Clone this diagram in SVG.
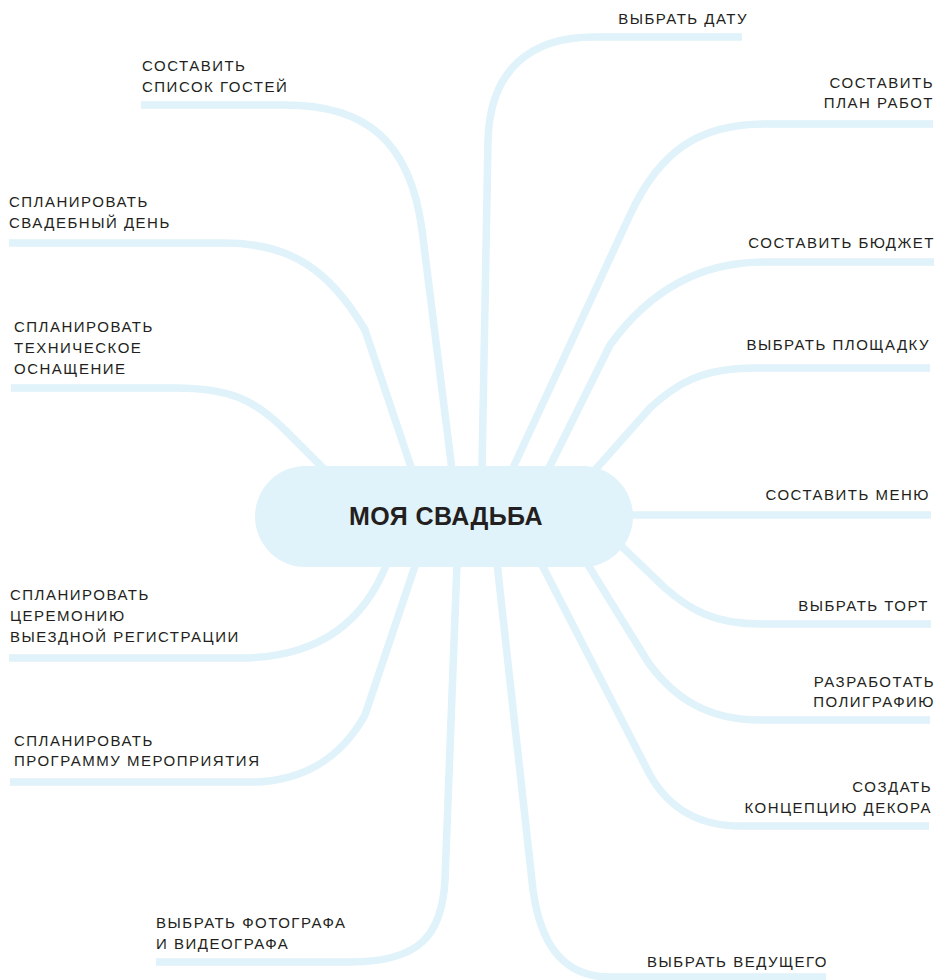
<svg xmlns="http://www.w3.org/2000/svg" width="937" height="980" viewBox="0 0 937 980">
<style>
.c{fill:none;stroke:#e0f2fa;stroke-width:7.5;stroke-linecap:butt;stroke-linejoin:round}
.t{font-family:"Liberation Sans",Arial,sans-serif;font-size:15px;letter-spacing:1.5px;fill:#231f20}
.e{text-anchor:end}
.title{font-family:"Liberation Sans",Arial,sans-serif;font-size:25px;font-weight:bold;fill:#231f20;text-anchor:middle;letter-spacing:0.4px}
</style>
<rect width="937" height="980" fill="#ffffff"/>
<g id="connectors">
<path class="c" d="M141 105 H285 C365 105 410 140 422 230 L452 470"/>
<path class="c" d="M9 243 H225 C290 243 330 270 365 330 L412 470"/>
<path class="c" d="M11 388 H175 C230 388 255 400 285 430 L325 470"/>
<path class="c" d="M742 37 H600 C530 35 490 70 488 140 L482 470"/>
<path class="c" d="M933 124 H765 C700 124 660 150 630 215 L512 470"/>
<path class="c" d="M934 262 H765 C700 262 650 290 610 345 L548 470"/>
<path class="c" d="M930 368 H755 C700 368 675 385 650 408 L595 470"/>
<path class="c" d="M600 515 H931"/>
<path class="c" d="M931 624 H760 C715 624 690 610 665 588 L615 540"/>
<path class="c" d="M930 720 H760 C710 720 675 700 648 662 L588 565"/>
<path class="c" d="M929 826 H740 C700 826 670 810 650 775 L541 563"/>
<path class="c" d="M826 977 H610 C560 977 540 940 533 890 L497 563"/>
<path class="c" d="M9 658 H240 C320 658 365 620 387 563"/>
<path class="c" d="M10 782 H250 C300 782 340 760 365 715 L416 563"/>
<path class="c" d="M156 962 H350 C420 962 442 935 445 880 L457 563"/>
</g>
<g id="center">
<rect x="255" y="466" width="378" height="101" rx="50.5" fill="#e0f2fa"/>
<text class="title" x="446" y="525">МОЯ СВАДЬБА</text>
</g>
<g id="n-guests"><text class="t" x="142" y="71">СОСТАВИТЬ</text><text class="t" x="142" y="92">СПИСОК ГОСТЕЙ</text></g>
<g id="n-day"><text class="t" x="9" y="207">СПЛАНИРОВАТЬ</text><text class="t" x="9" y="228">СВАДЕБНЫЙ ДЕНЬ</text></g>
<g id="n-tech"><text class="t" x="14" y="332">СПЛАНИРОВАТЬ</text><text class="t" x="14" y="353">ТЕХНИЧЕСКОЕ</text><text class="t" x="14" y="374">ОСНАЩЕНИЕ</text></g>
<g id="n-date"><text class="t e" x="748" y="24">ВЫБРАТЬ ДАТУ</text></g>
<g id="n-plan"><text class="t e" x="934" y="88">СОСТАВИТЬ</text><text class="t e" x="934" y="108">ПЛАН РАБОТ</text></g>
<g id="n-budget"><text class="t e" x="935" y="248">СОСТАВИТЬ БЮДЖЕТ</text></g>
<g id="n-venue"><text class="t e" x="930" y="350">ВЫБРАТЬ ПЛОЩАДКУ</text></g>
<g id="n-menu"><text class="t e" x="930" y="500">СОСТАВИТЬ МЕНЮ</text></g>
<g id="n-cake"><text class="t e" x="929" y="611">ВЫБРАТЬ ТОРТ</text></g>
<g id="n-print"><text class="t e" x="935" y="687">РАЗРАБОТАТЬ</text><text class="t e" x="935" y="707">ПОЛИГРАФИЮ</text></g>
<g id="n-decor"><text class="t e" x="932" y="792">СОЗДАТЬ</text><text class="t e" x="932" y="813">КОНЦЕПЦИЮ ДЕКОРА</text></g>
<g id="n-host"><text class="t" x="647" y="967">ВЫБРАТЬ ВЕДУЩЕГО</text></g>
<g id="n-ceremony"><text class="t" x="10" y="600">СПЛАНИРОВАТЬ</text><text class="t" x="10" y="621">ЦЕРЕМОНИЮ</text><text class="t" x="10" y="642">ВЫЕЗДНОЙ РЕГИСТРАЦИИ</text></g>
<g id="n-program"><text class="t" x="14" y="746">СПЛАНИРОВАТЬ</text><text class="t" x="14" y="766">ПРОГРАММУ МЕРОПРИЯТИЯ</text></g>
<g id="n-photo"><text class="t" x="156" y="928">ВЫБРАТЬ ФОТОГРАФА</text><text class="t" x="156" y="949">И ВИДЕОГРАФА</text></g>
</svg>
